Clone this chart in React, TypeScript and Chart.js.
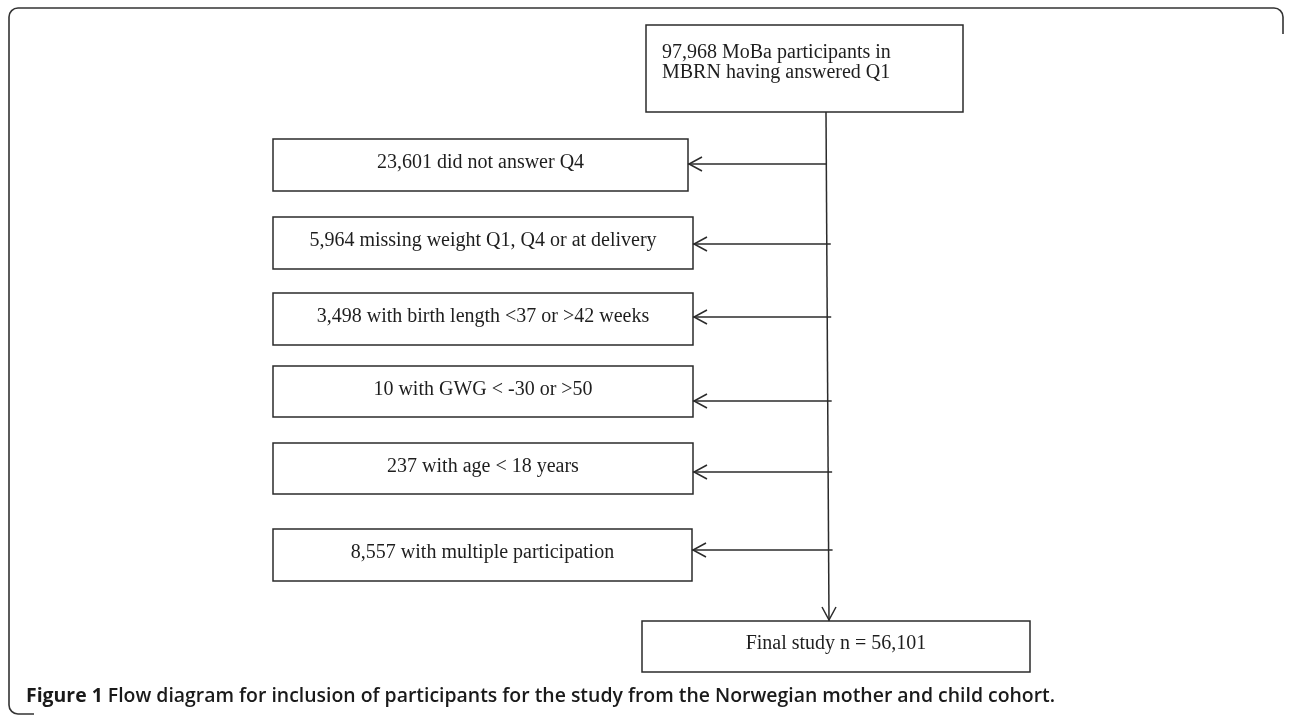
import React, { useEffect, useRef } from "react";
import { Chart, registerables } from "chart.js";

Chart.register(...registerables);

// ---------------- data ----------------
const startCount = 97968;
const startText = ["MoBa participants in", "MBRN having answered Q1"];
const exclusionCounts = [23601, 5964, 3498, 10, 237, 8557];
const exclusionReasons = [
  "did not answer Q4",
  "missing weight Q1, Q4 or at delivery",
  "with birth length <37 or >42 weeks",
  "with GWG < -30 or >50",
  "with age < 18 years",
  "with multiple participation",
];
const finalLabel = "Final study n =";
const finalCount = 56101;
const captionLead = "Figure 1";
const captionText =
  "Flow diagram for inclusion of participants for the study from the Norwegian mother and child cohort.";

// ---------------- layout (frame units) ----------------
const FRAME_W = 1290;
const FRAME_H = 717;
const topBox = { x0: 646, x1: 963, y0: 25, y1: 112, textX: 662, baselines: [58, 78] };
const exclX0 = 273;
const exclX1 = [688, 693, 693, 693, 693, 692];
const exclY0 = [139, 217, 293, 366, 443, 529];
const exclY1 = [191, 269, 345, 417, 494, 581];
const exclArrowY = [164, 244, 317, 401, 472, 550];
const finalBox = { x0: 642, x1: 1030, y0: 621, y1: 672 };
const trunk = { xTop: 826, xBottom: 829 };
const caption = { x: 26, baseline: 702, width: 1030 };

const fmt = (n: number) => n.toLocaleString("en-US");

const flowPlugin = {
  id: "flow",
  afterDraw(chart: any) {
    const ctx: CanvasRenderingContext2D = chart.ctx;
    const xs = chart.scales.x;
    const ys = chart.scales.y;
    const px = (v: number) => xs.getPixelForValue(v);
    const py = (v: number) => ys.getPixelForValue(v);
    const ink = "#2b2b2b";
    const serif = '"Liberation Serif", "Times New Roman", serif';

    ctx.save();
    ctx.strokeStyle = ink;
    ctx.fillStyle = "#1e1e1e";
    ctx.lineWidth = 1.5;
    ctx.lineCap = "butt";

    const seg = (x1: number, y1: number, x2: number, y2: number) => {
      ctx.beginPath();
      ctx.moveTo(px(x1), py(y1));
      ctx.lineTo(px(x2), py(y2));
      ctx.stroke();
    };
    const rect = (x0: number, y0: number, x1: number, y1: number) => {
      ctx.beginPath();
      ctx.rect(px(x0), py(y0), px(x1) - px(x0), py(y1) - py(y0));
      ctx.stroke();
    };

    // outer frame
    ctx.lineWidth = 1.6;
    ctx.strokeStyle = "#333";
    const r = 9;
    ctx.beginPath();
    ctx.moveTo(px(1283), py(34));
    ctx.lineTo(px(1283), py(8 + r));
    ctx.arcTo(px(1283), py(8), px(1283 - r), py(8), r);
    ctx.lineTo(px(9 + r), py(8));
    ctx.arcTo(px(9), py(8), px(9), py(8 + r), r);
    ctx.lineTo(px(9), py(714 - r));
    ctx.arcTo(px(9), py(714), px(9 + r), py(714), r);
    ctx.lineTo(px(34), py(714));
    ctx.stroke();

    ctx.strokeStyle = ink;
    ctx.lineWidth = 1.5;

    // top box
    rect(topBox.x0, topBox.y0, topBox.x1, topBox.y1);
    ctx.font = `20px ${serif}`;
    ctx.textBaseline = "alphabetic";
    ctx.textAlign = "left";
    const topLines = [`${fmt(startCount)} ${startText[0]}`, startText[1]];
    topLines.forEach((t, i) => ctx.fillText(t, px(topBox.textX), py(topBox.baselines[i])));

    // trunk
    const trunkX = (yv: number) =>
      trunk.xTop + ((trunk.xBottom - trunk.xTop) * (yv - topBox.y1)) / (finalBox.y0 - topBox.y1);
    seg(trunk.xTop, topBox.y1, trunk.xBottom, finalBox.y0);

    // exclusion boxes
    ctx.textAlign = "center";
    exclusionCounts.forEach((c, i) => {
      rect(exclX0, exclY0[i], exclX1[i], exclY1[i]);
      const ay = exclArrowY[i];
      const tx = trunkX(ay) + (i === 0 ? 0 : 4);
      seg(exclX1[i], ay, tx, ay);
      // open arrowhead
      ctx.beginPath();
      ctx.moveTo(px(exclX1[i] + 14), py(ay - 7));
      ctx.lineTo(px(exclX1[i] + 1), py(ay));
      ctx.lineTo(px(exclX1[i] + 14), py(ay + 7));
      ctx.stroke();
      ctx.fillText(
        `${fmt(c)} ${exclusionReasons[i]}`,
        px((exclX0 + exclX1[i]) / 2),
        py(exclY0[i] + 29)
      );
    });

    // final arrowhead
    ctx.beginPath();
    ctx.moveTo(px(trunk.xBottom - 7), py(finalBox.y0 - 14));
    ctx.lineTo(px(trunk.xBottom), py(finalBox.y0 - 1));
    ctx.lineTo(px(trunk.xBottom + 7), py(finalBox.y0 - 14));
    ctx.stroke();

    // final box
    rect(finalBox.x0, finalBox.y0, finalBox.x1, finalBox.y1);
    ctx.fillText(
      `${finalLabel} ${fmt(finalCount)}`,
      px((finalBox.x0 + finalBox.x1) / 2),
      py(finalBox.y0 + 28)
    );

    // caption
    const sans = '"Open Sans", "Noto Sans", sans-serif';
    const base = 16;
    ctx.textAlign = "left";
    ctx.fillStyle = "#1a1a1a";
    ctx.font = `700 ${base}px ${sans}`;
    const w1 = ctx.measureText(captionLead + " ").width;
    ctx.font = `600 ${base}px ${sans}`;
    const w2 = ctx.measureText(captionText).width;
    const size = (base * (px(caption.x + caption.width) - px(caption.x))) / (w1 + w2);
    ctx.font = `700 ${size}px ${sans}`;
    ctx.fillText(captionLead + " ", px(caption.x), py(caption.baseline));
    const lw = ctx.measureText(captionLead + " ").width;
    ctx.font = `600 ${size}px ${sans}`;
    ctx.fillText(captionText, px(caption.x) + lw, py(caption.baseline));

    ctx.restore();
  },
};

export default function App() {
  const ref = useRef<HTMLCanvasElement | null>(null);
  useEffect(() => {
    document.body.style.margin = "0";
    document.body.style.overflow = "hidden";
    document.body.style.background = "#fff";
    if (!ref.current) return;
    const chart = new Chart(ref.current, {
      type: "scatter",
      data: { datasets: [{ data: [], pointRadius: 0 }] },
      options: {
        animation: false,
        responsive: true,
        maintainAspectRatio: false,
        layout: { padding: 0 },
        plugins: { legend: { display: false }, tooltip: { enabled: false } },
        scales: {
          x: { type: "linear", min: 0, max: FRAME_W, display: false },
          y: { type: "linear", min: 0, max: FRAME_H, reverse: true, display: false },
        },
      },
      plugins: [flowPlugin],
    });
    return () => chart.destroy();
  }, []);
  return (
    <div style={{ width: FRAME_W, height: FRAME_H, position: "relative", background: "#fff" }}>
      <canvas ref={ref} />
    </div>
  );
}
